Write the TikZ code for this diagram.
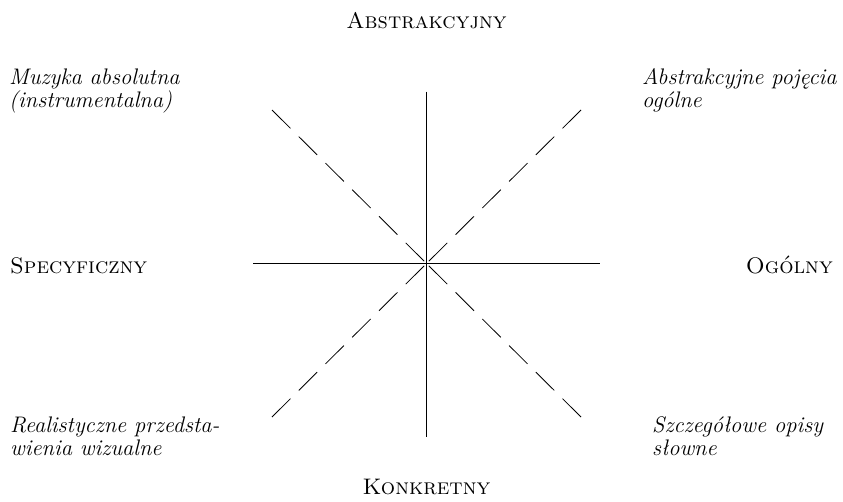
\documentclass[tikz,border=0pt]{standalone}
\usepackage{fontspec}
\begin{document}
\begin{tikzpicture}[x=1pt, y=-1pt,
  axis/.style={line width=0.9pt},
  diag/.style={line width=0.8pt, dash pattern=on 26pt off 11.7pt},
  pole/.style={inner sep=0pt, font=\fontsize{22.5}{23}\selectfont\scshape},
  corner/.style={inner sep=0pt, align=left, font=\fontsize{22.5}{23}\selectfont\itshape}]
\useasboundingbox (0,0) rectangle (843,501);
\coordinate (c) at (426.5,263.5);
\coordinate (top) at (426.5,91.5); \coordinate (bot) at (426.5,437);
\coordinate (lft) at (253,263.5); \coordinate (rgt) at (600,263.5);
\coordinate (ul) at (272,110); \coordinate (ur) at (581,110);
\coordinate (ll) at (272,417); \coordinate (lr) at (581,417);
\draw[axis] (top) -- (bot);
\draw[axis] (lft) -- (rgt);
\draw[diag] (ul) -- (c); \draw[diag] (ur) -- (c);
\draw[diag] (ll) -- (c); \draw[diag] (lr) -- (c);
\node[pole, anchor=base] (abs) at (426.5,28) {Abstrakcyjny};
\node[pole, anchor=base] (kon) at (426.5,494) {Konkretny};
\node[pole, anchor=base west] (spe) at (10,273) {Specyficzny};
\node[pole, anchor=base east] (ogo) at (833,273) {Ogólny};
\node[corner, anchor=base west] (muz) at (9,107) {Muzyka absolutna\\(instrumentalna)};
\node[corner, anchor=base west] (poj) at (642,107) {Abstrakcyjne pojęcia\\ogólne};
\node[corner, anchor=base west] (rea) at (10,455) {Realistyczne przedsta-\\wienia wizualne};
\node[corner, anchor=base west] (szc) at (652,455) {Szczegółowe opisy\\słowne};
\end{tikzpicture}
\end{document}
